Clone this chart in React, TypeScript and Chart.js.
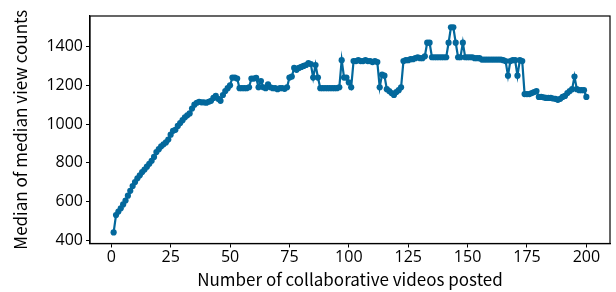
import React, { useEffect, useRef } from "react";
import { Chart, registerables } from "chart.js";

Chart.register(...registerables);

const videoCounts: number[] = Array.from({ length: 200 }, (_, i) => i + 1);

const medianViews: number[] = [
  440, 530, 548, 565, 585, 605, 630, 655, 680, 700,
  720, 735, 752, 765, 780, 795, 810, 830, 855, 870,
  885, 895, 905, 920, 945, 965, 970, 990, 1005, 1020,
  1035, 1045, 1055, 1080, 1100, 1110, 1115, 1112, 1112, 1110,
  1115, 1120, 1135, 1145, 1130, 1120, 1150, 1170, 1185, 1200,
  1240, 1240, 1235, 1185, 1185, 1185, 1185, 1190, 1235, 1235,
  1238, 1190, 1222, 1190, 1185, 1205, 1190, 1185, 1185, 1180,
  1185, 1185, 1182, 1190, 1240, 1245, 1290, 1280, 1290, 1295,
  1300, 1305, 1315, 1310, 1240, 1305, 1240, 1185, 1185, 1185,
  1185, 1185, 1185, 1185, 1185, 1190, 1330, 1240, 1240, 1215,
  1190, 1325, 1325, 1330, 1325, 1325, 1330, 1325, 1325, 1320,
  1325, 1320, 1190, 1255, 1250, 1180, 1170, 1160, 1150, 1165,
  1175, 1190, 1325, 1330, 1330, 1335, 1335, 1340, 1345, 1340,
  1340, 1350, 1420, 1420, 1345, 1345, 1345, 1345, 1345, 1345,
  1345, 1420, 1500, 1500, 1420, 1345, 1345, 1420, 1345, 1345,
  1345, 1345, 1340, 1340, 1340, 1333, 1333, 1333, 1333, 1333,
  1333, 1333, 1333, 1333, 1330, 1325, 1250, 1325, 1330, 1330,
  1250, 1330, 1325, 1155, 1155, 1155, 1160, 1165, 1170, 1140,
  1140, 1138, 1135, 1135, 1135, 1132, 1130, 1125, 1130, 1140,
  1145, 1160, 1170, 1180, 1245, 1180, 1175, 1175, 1175, 1140,
];

const xTickValues: number[] = [0, 25, 50, 75, 100, 125, 150, 175, 200];
const yTickValues: number[] = [400, 600, 800, 1000, 1200, 1400];

const xTitle = "Number of collaborative videos posted";
const yTitle = "Median of median view counts";

const FONT = "'Noto Sans CJK JP', 'Noto Sans', sans-serif";
const TICK_FONT = "'Open Sans', 'Noto Sans', sans-serif";
const FSIZE = 17;
const TSIZE = 16;

const framePlugin = {
  id: "frame",
  afterDatasetsDraw(chart: any) {
    const { ctx, chartArea } = chart;
    ctx.save();
    ctx.strokeStyle = "#000";
    ctx.lineWidth = 1.2;
    ctx.strokeRect(chartArea.left, chartArea.top, chartArea.right - chartArea.left, chartArea.bottom - chartArea.top);
    ctx.restore();
  },
};

export default function App() {
  const ref = useRef<HTMLCanvasElement | null>(null);

  useEffect(() => {
    if (!ref.current) return;
    const color = "#03689c";
    const chart = new Chart(ref.current, {
      type: "line",
      data: {
        datasets: [
          {
            data: videoCounts.map((x, i) => ({ x, y: medianViews[i] })),
            borderColor: color,
            backgroundColor: color,
            borderWidth: 2.2,
            pointRadius: 3.1,
            pointHoverRadius: 3.1,
            pointBorderWidth: 0,
            tension: 0,
          },
        ],
      },
      options: {
        responsive: false,
        animation: false,
        events: [],
        layout: { padding: { left: 0, right: 6, top: 16, bottom: 0 } },
        plugins: { legend: { display: false }, tooltip: { enabled: false } },
        scales: {
          x: {
            type: "linear",
            min: -8.95,
            max: 209.95,
            afterBuildTicks: (axis: any) => {
              axis.ticks = xTickValues.map((v) => ({ value: v }));
            },
            afterFit: (axis: any) => {
              axis.height = 48.5;
            },
            grid: { display: true, drawOnChartArea: false, drawTicks: true, tickLength: 4, color: "#000", lineWidth: 1 },
            border: { display: true, color: "#000", width: 1.2 },
            ticks: {
              color: "#000",
              font: { family: TICK_FONT, size: TSIZE },
              padding: 0,
              maxRotation: 0,
              autoSkip: false,
              callback: (v: any) => String(v),
            },
            title: { display: true, text: xTitle, color: "#000", font: { family: FONT, size: FSIZE }, padding: { top: 0, bottom: 2 } },
          },
          y: {
            type: "linear",
            min: 383,
            max: 1558,
            afterBuildTicks: (axis: any) => {
              axis.ticks = yTickValues.map((v) => ({ value: v }));
            },
            afterFit: (axis: any) => {
              axis.width = 90;
            },
            grid: { display: true, drawOnChartArea: false, drawTicks: true, tickLength: 4, color: "#000", lineWidth: 1 },
            border: { display: true, color: "#000", width: 1.2 },
            ticks: {
              color: "#000",
              font: { family: TICK_FONT, size: TSIZE },
              padding: 3,
              autoSkip: false,
              callback: (v: any) => String(v),
            },
            title: { display: true, text: yTitle, color: "#000", font: { family: FONT, size: FSIZE }, padding: { top: 10, bottom: 0 } },
          },
        },
      },
      plugins: [framePlugin],
    });
    return () => chart.destroy();
  }, []);

  return (
    <div style={{ position: "absolute", left: 0, top: 0, width: 616, height: 292, background: "#fff" }}>
      <canvas ref={ref} width={616} height={292} style={{ display: "block" }} />
    </div>
  );
}
